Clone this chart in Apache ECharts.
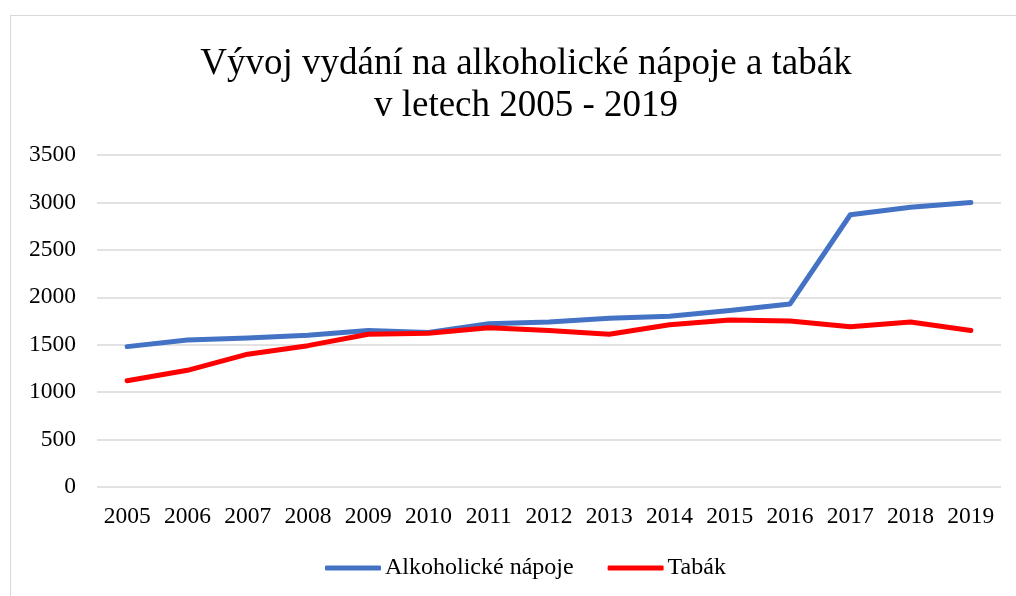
<!DOCTYPE html>
<html>
<head>
<meta charset="utf-8">
<script src="https://cdn.jsdelivr.net/npm/echarts@6/dist/echarts.min.js"></script>
<style>
  html, body { margin: 0; padding: 0; background: #fff; overflow: hidden; }
  #frame { position: absolute; left: 10px; top: 15px; width: 1010px; height: 600px; border: 1px solid #d9d9d9; }
  #chart { position: absolute; left: 0; top: 0; width: 1016px; height: 596px; }
</style>
</head>
<body>
<div id="frame"></div>
<div id="chart"></div>
<script>
const years = ['2005', '2006', '2007', '2008', '2009', '2010', '2011', '2012', '2013', '2014', '2015', '2016', '2017', '2018', '2019'];
const alkohol = [1480, 1550, 1570, 1600, 1650, 1630, 1720, 1740, 1780, 1800, 1860, 1930, 2870, 2950, 3000];
const tabak = [1120, 1230, 1400, 1490, 1610, 1620, 1680, 1650, 1610, 1710, 1760, 1750, 1690, 1740, 1650];

const font = '"Liberation Serif", "DejaVu Serif", serif';

const chart = echarts.init(document.getElementById('chart'));

chart.setOption({
  animation: false,
  textStyle: { fontFamily: font },
  title: {
    text: 'Vývoj vydání na alkoholické nápoje a tabák\nv letech 2005 - 2019',
    left: 521,
    top: 38,
    textAlign: 'center',
    textStyle: { fontFamily: font, fontSize: 37, fontWeight: 'normal', color: '#000', lineHeight: 42 }
  },
  grid: { left: 97, right: 15, top: 155, bottom: 109 },
  legend: {
    bottom: 11,
    left: 320,
    itemWidth: 56,
    itemHeight: 5,
    itemGap: 34,
    icon: 'roundRect',
    textStyle: { fontFamily: font, fontSize: 24, color: '#000', padding: [0, 0, 0, -1] },
    data: ['Alkoholické nápoje', 'Tabák']
  },
  xAxis: {
    type: 'category',
    data: years,
    boundaryGap: true,
    axisLine: { show: false },
    axisTick: { show: false },
    axisLabel: { fontFamily: font, fontSize: 23.5, color: '#000', margin: 18, interval: 0 }
  },
  yAxis: {
    type: 'value',
    min: 0,
    max: 3500,
    interval: 500,
    axisLine: { show: false },
    axisTick: { show: false },
    splitLine: { lineStyle: { color: '#d9d9d9', width: 1.5 } },
    axisLabel: { fontFamily: font, fontSize: 23.5, color: '#000', margin: 21, formatter: v => String(v) }
  },
  series: [
    {
      name: 'Alkoholické nápoje',
      type: 'line',
      data: alkohol,
      symbol: 'none',
      lineStyle: { color: '#4472c4', width: 5, cap: 'round', join: 'round' },
      itemStyle: { color: '#4472c4' }
    },
    {
      name: 'Tabák',
      type: 'line',
      data: tabak,
      symbol: 'none',
      lineStyle: { color: '#ff0000', width: 5, cap: 'round', join: 'round' },
      itemStyle: { color: '#ff0000' }
    }
  ]
});
</script>
</body>
</html>
